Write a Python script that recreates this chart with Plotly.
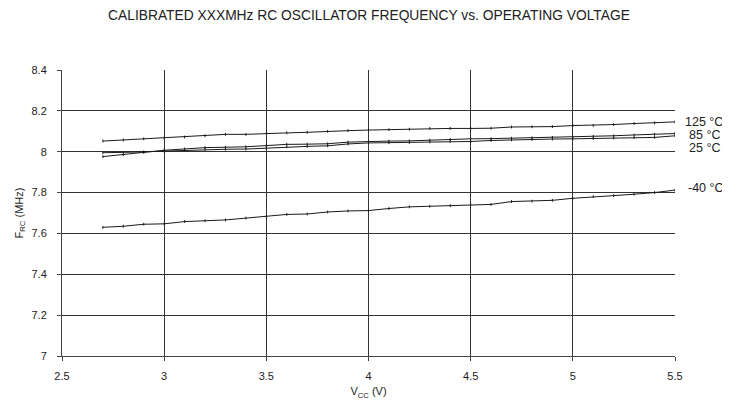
import plotly.graph_objects as go

vcc = [2.7, 2.8, 2.9, 3.0, 3.1, 3.2, 3.3, 3.4, 3.5, 3.6, 3.7, 3.8, 3.9, 4.0, 4.1,
       4.2, 4.3, 4.4, 4.5, 4.6, 4.7, 4.8, 4.9, 5.0, 5.1, 5.2, 5.3, 5.4, 5.5]

f_125 = [8.052, 8.057, 8.063, 8.067, 8.072, 8.078, 8.085, 8.085, 8.090, 8.092,
         8.095, 8.100, 8.103, 8.106, 8.108, 8.110, 8.114, 8.114, 8.114, 8.115,
         8.121, 8.122, 8.123, 8.128, 8.129, 8.133, 8.138, 8.141, 8.146]
f_85 = [7.976, 7.985, 7.997, 8.007, 8.013, 8.020, 8.022, 8.024, 8.030, 8.036,
        8.037, 8.039, 8.047, 8.051, 8.052, 8.053, 8.057, 8.060, 8.063, 8.064,
        8.066, 8.068, 8.070, 8.072, 8.075, 8.078, 8.082, 8.085, 8.089]
f_25 = [7.995, 7.996, 7.999, 8.003, 8.007, 8.011, 8.012, 8.013, 8.018, 8.024,
        8.026, 8.029, 8.038, 8.043, 8.044, 8.045, 8.048, 8.050, 8.050, 8.055,
        8.058, 8.060, 8.062, 8.063, 8.065, 8.067, 8.069, 8.070, 8.078]
f_m40 = [7.630, 7.635, 7.645, 7.647, 7.658, 7.662, 7.666, 7.675, 7.683, 7.693,
         7.695, 7.705, 7.710, 7.712, 7.722, 7.730, 7.733, 7.736, 7.741, 7.742,
         7.756, 7.758, 7.762, 7.772, 7.780, 7.785, 7.792, 7.800, 7.812]

series = [("125 °C", f_125, 8.145, 9), ("85 °C", f_85, 8.083, 13),
          ("25 °C", f_25, 8.020, 13), ("-40 °C", f_m40, 7.822, 12)]

x_ticks = [2.5, 3, 3.5, 4, 4.5, 5, 5.5]
y_ticks = [7, 7.2, 7.4, 7.6, 7.8, 8, 8.2, 8.4]

FONT = "Liberation Sans, Arial, sans-serif"

fig = go.Figure()
for name, vals, _, _ in series:
    fig.add_trace(go.Scatter(
        x=vcc, y=vals, mode="lines+markers", name=name,
        line=dict(color="#1a1a1a", width=1),
        marker=dict(symbol="line-ns", size=2, line=dict(color="#1a1a1a", width=1)),
        showlegend=False))

annotations = []
for name, vals, ylab, xs in series:
    annotations.append(dict(
        x=1.0, xref="paper", y=ylab, yref="y", text=name, showarrow=False,
        xanchor="left", xshift=xs, borderpad=0,
        font=dict(family=FONT, size=12.5, color="#222")))

fig.update_layout(
    width=722, height=403,
    margin=dict(l=54, r=55, t=62, b=55),
    paper_bgcolor="white", plot_bgcolor="white",
    title=dict(text="CALIBRATED XXXMHz RC OSCILLATOR FREQUENCY vs. OPERATING VOLTAGE",
               x=0.5, xanchor="center", y=0.983, yanchor="middle",
               font=dict(family=FONT, size=13.8, color="#222")),
    xaxis=dict(range=[2.5, 5.5], tickvals=x_ticks, ticktext=[f"{v:g}" for v in x_ticks],
               automargin=False,
               showgrid=True, gridcolor="#333", gridwidth=1, zeroline=False,
               showline=True, linecolor="#444", linewidth=1,
               ticks="outside", ticklen=4, tickcolor="#444", ticklabelstandoff=6,
               tickfont=dict(family=FONT, size=11, color="#222"),
               title=dict(text="V<sub>CC</sub> (V)", standoff=6,
                          font=dict(family=FONT, size=11, color="#222"))),
    yaxis=dict(range=[7, 8.4], tickvals=y_ticks, ticktext=[f"{v:g}" for v in y_ticks],
               automargin=False,
               showgrid=True, gridcolor="#333", gridwidth=1, zeroline=False,
               showline=True, linecolor="#444", linewidth=1,
               ticks="outside", ticklen=4, tickcolor="#444", ticklabelstandoff=8,
               tickfont=dict(family=FONT, size=11, color="#222"),
               title=dict(text="F<sub>RC</sub> (MHz)", standoff=5,
                          font=dict(family=FONT, size=11, color="#222"))),
    annotations=annotations,
)

fig.write_html("out.html")
